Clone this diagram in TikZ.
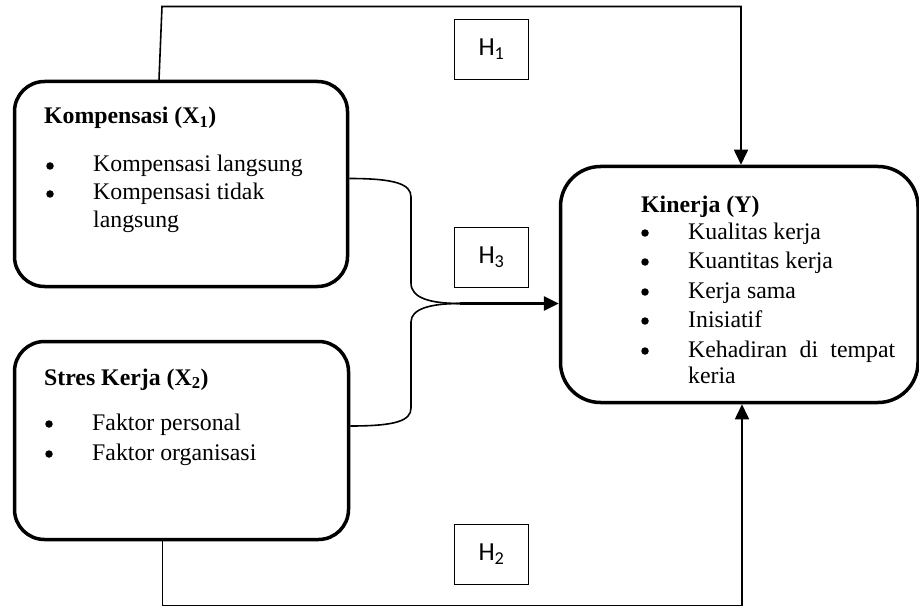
\documentclass[tikz,border=0pt]{standalone}
\usepackage{fontspec}
\setmainfont{Liberation Serif}
\newfontfamily\hfont{Carlito}
\usetikzlibrary{arrows.meta}
\tikzset{
  varbox/.style={draw, line width=3.5pt, rounded corners=30pt, inner sep=0pt},
  hbox/.style={draw, line width=1.6pt, minimum width=74pt, minimum height=60pt, inner sep=0pt, font=\hfont\fontsize{26}{30}\selectfont},
  txt/.style={anchor=base west, inner sep=0pt, font=\fontsize{23.8}{28}\selectfont},
  dot/.style={circle, fill, minimum size=7.5pt, inner sep=0pt},
  conn/.style={line width=1.6pt},
  tip/.style={-{Triangle[length=15pt,width=14pt]}}
}
\begin{document}
\begin{tikzpicture}[x=1pt,y=-1pt]
\useasboundingbox (0,0) rectangle (919,607);
% boxes
\node[varbox, minimum width=333pt, minimum height=205pt] (x1) at (181,184) {};
\node[varbox, minimum width=334pt, minimum height=198pt] (x2) at (181.5,440.5) {};
\node[varbox, rounded corners=40pt, minimum width=357.5pt, minimum height=236pt] (y) at (739.25,284.5) {};
% hypothesis boxes
\node[hbox] (h1) at (491.5,49.5) {H\textsubscript{1}};
\node[hbox] (h3) at (491.5,257.5) {H\textsubscript{3}};
\node[hbox] (h2) at (491.5,554.5) {H\textsubscript{2}};
% X1 text
\node[txt] (x1t) at (44,124) {\textbf{Kompensasi (X\textsubscript{1})}};
\node[dot] (x1b1) at (50,166) {};
\node[dot] (x1b2) at (50,194) {};
\node[txt] (x1i1) at (93,172) {Kompensasi langsung};
\node[txt] (x1i2) at (93,200) {Kompensasi tidak};
\node[txt] (x1i3) at (93,227) {langsung};
% X2 text
\node[txt] (x2t) at (44,385) {\textbf{Stres Kerja (X\textsubscript{2})}};
\node[dot] (x2b1) at (49,424) {};
\node[dot] (x2b2) at (49,454) {};
\node[txt] (x2i1) at (92,430) {Faktor personal};
\node[txt] (x2i2) at (92,460) {Faktor organisasi};
% Y text
\node[txt] (yt) at (641,212) {\textbf{Kinerja (Y)}};
\node[dot] (yb1) at (645,233) {};
\node[dot] (yb2) at (645,262) {};
\node[dot] (yb3) at (645,292) {};
\node[dot] (yb4) at (645,321) {};
\node[dot] (yb5) at (645,351) {};
\node[txt] (yi1) at (688,239) {Kualitas kerja};
\node[txt] (yi2) at (688,268) {Kuantitas kerja};
\node[txt] (yi3) at (688,298) {Kerja sama};
\node[txt] (yi4) at (688,327) {Inisiatif};
\node[txt] (yi5) at (688,357) {\hbox to 207pt{Kehadiran\hfil di\hfil tempat}};
\node[txt] (yi6) at (688,383) {keria};
% connector coordinates
\coordinate (t1) at (162,6.5);
\coordinate (t2) at (741,6.5);
\coordinate (b1) at (162.5,605.5);
\coordinate (b2) at (742,605.5);
\coordinate (m) at (460,303.5);
% H1 path
\draw[conn,tip] ([xshift=-22pt]x1.north) -- (t1) -- (t2) -- (t2 |- y.north);
% H2 path
\draw[conn,tip] ([xshift=-19pt]x2.south) -- (b1) -- (b2) -- (b2 |- y.south);
% H3 merge
\draw[conn] ([yshift=5.5pt]x1.east) .. controls (395,178.5) and (411,184) .. (411,197)
  -- (411,283) .. controls (411,298) and (430,303.5) .. (m);
\draw[conn] ([yshift=14.5pt]x2.east) .. controls (395,426) and (411,421) .. (411,408)
  -- (411,322) .. controls (411,309) and (430,303.5) .. (m);
\draw[line width=2.8pt,tip] (m) -- (m -| y.west);
\end{tikzpicture}
\end{document}
